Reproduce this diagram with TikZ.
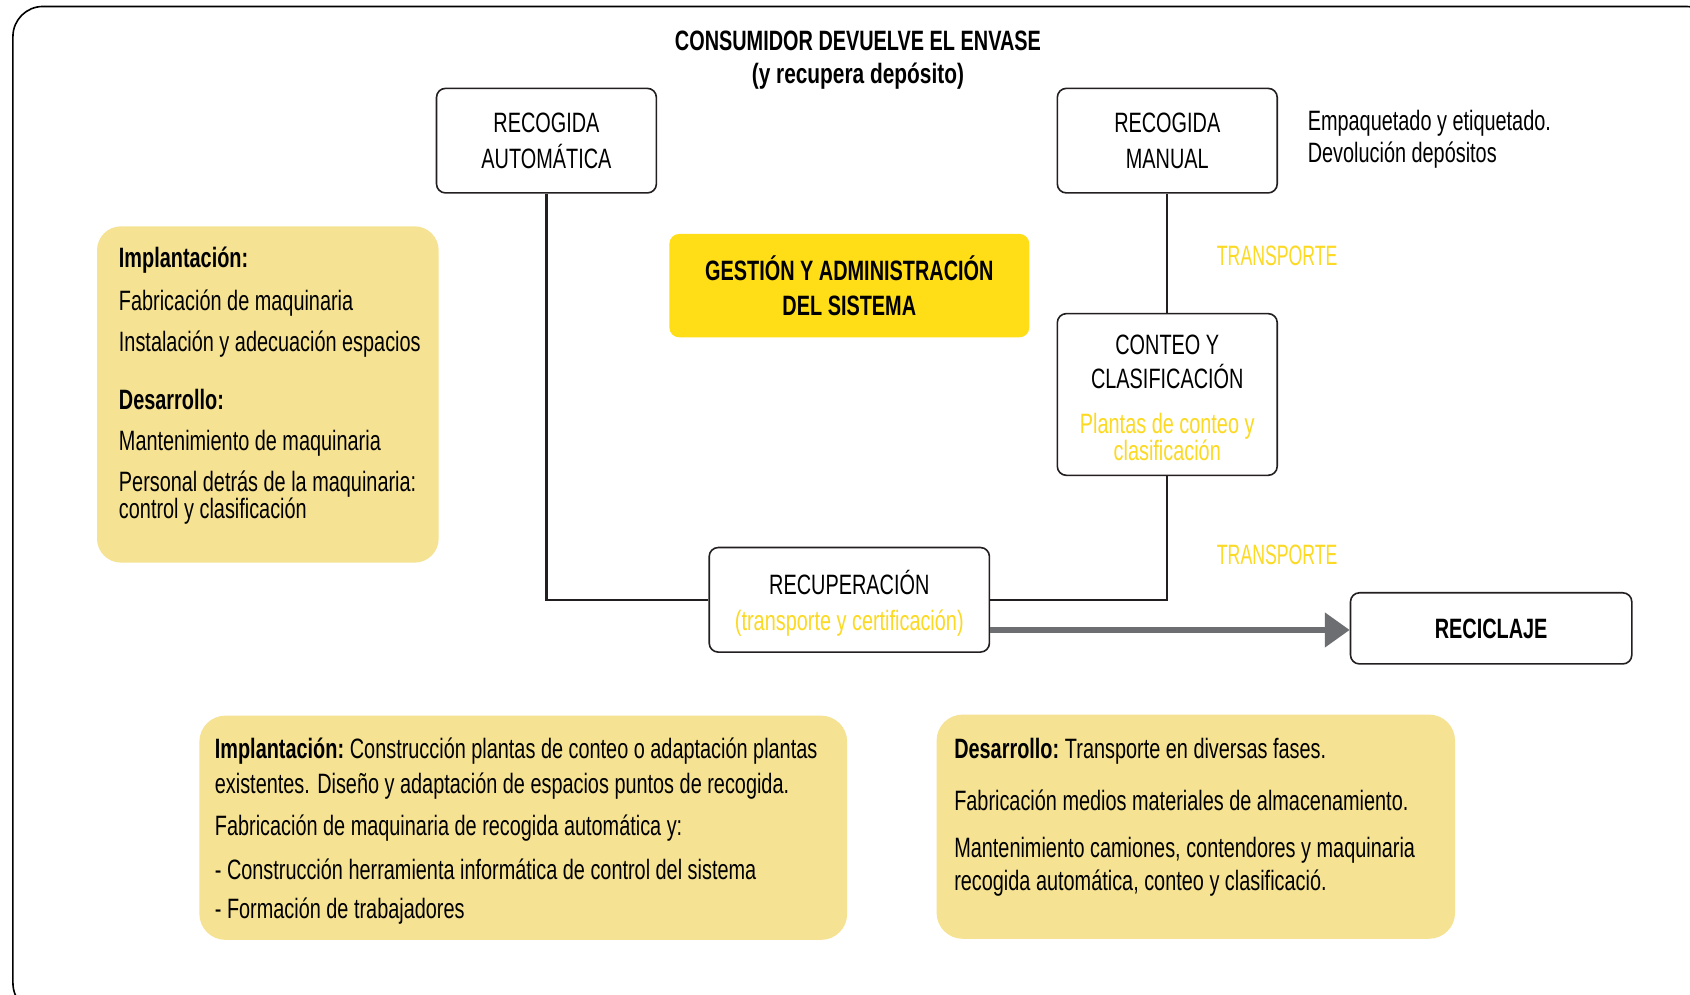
\documentclass[tikz,border=0pt]{standalone}
\usepackage{fontspec}
\setmainfont{Liberation Sans}[FakeStretch=0.71]
\usetikzlibrary{arrows.meta}
\definecolor{paleY}{HTML}{F5E292}
\definecolor{goldY}{HTML}{FFDE17}
\definecolor{txtY}{HTML}{FCD923}
\definecolor{arrowG}{HTML}{6D6E71}
\definecolor{boxline}{HTML}{231F20}
\def\pxu{0.5389pt}
\tikzset{
  every node/.style={font=\fontsize{14}{17}\selectfont},
  flowbox/.style={draw=boxline, line width=0.8pt, rounded corners=4.5pt, fill=white, inner sep=0pt, align=center},
  notebox/.style={fill=paleY, rounded corners=12pt, inner sep=0pt},
  txt/.style={anchor=west, inner sep=0pt, align=left},
  ytxt/.style={inner sep=0pt, text=txtY},
  conn/.style={draw=boxline, line width=1.1pt},
}
\begin{document}
\begin{tikzpicture}[x=0.5389pt, y=-0.5389pt]
\useasboundingbox (0,0) rectangle (1568,923);
\clip (0,0) rectangle (1568,923);
\fill[white] (0,0) rectangle (1568,923);
% frame
\draw[line width=0.8pt, rounded corners=15pt] (12,6) rectangle (1592,940);

% title
\node[inner sep=0pt, font=\fontsize{14}{17}\selectfont\bfseries] (t1) at (796,37.5) {CONSUMIDOR DEVUELVE EL ENVASE};
\node[inner sep=0pt, font=\fontsize{14}{17}\selectfont\bfseries, xscale=1.05] (t2) at (796,71) {(y recupera depósito)};

% top boxes
\node[flowbox, minimum width=204*\pxu, minimum height=97*\pxu, font=\fontsize{14}{17.8}\selectfont] (ra) at (507,130.5) {RECOGIDA\\AUTOMÁTICA};
\node[flowbox, minimum width=204*\pxu, minimum height=97*\pxu, font=\fontsize{14}{17.8}\selectfont] (rm) at (1083,130.5) {RECOGIDA\\MANUAL};
\node[txt, font=\fontsize{14}{16.2}\selectfont] (emp) at (1213,129) {Empaquetado y etiquetado.\\Devolución depósitos};

% gestion
\node[fill=goldY, rounded corners=5pt, inner sep=0pt, align=center, minimum width=334*\pxu, minimum height=96*\pxu, font=\fontsize{14}{17.8}\selectfont\bfseries] (gest) at (788,265) {GESTIÓN Y ADMINISTRACIÓN\\DEL SISTEMA};

% conteo
\node[flowbox, minimum width=204*\pxu, minimum height=150*\pxu] (cc) at (1083,366) {};
\node[inner sep=0pt, align=center, font=\fontsize{14}{17.2}\selectfont] (cct) at (1083,336) {CONTEO Y\\CLASIFICACIÓN};
\node[ytxt, align=center, font=\fontsize{14}{13.5}\selectfont] (ccy) at (1083,405.5) {Plantas de conteo y\\clasificación};

% transporte labels
\node[ytxt, xscale=0.89] (tr1) at (1185,237) {TRANSPORTE};
\node[ytxt, xscale=0.89] (tr2) at (1185,515) {TRANSPORTE};

% recuperacion
\node[flowbox, minimum width=260*\pxu, minimum height=97*\pxu] (rec) at (788,556.5) {};
\node[inner sep=0pt] (rect) at (788,540) {RECUPERACIÓN};
\node[ytxt] (recy) at (788,578) {(transporte y certificación)};

% reciclaje
\node[flowbox, minimum width=261*\pxu, minimum height=66*\pxu, font=\fontsize{14}{17}\selectfont\bfseries] (recl) at (1383.5,583) {RECICLAJE};

% connectors
\draw[conn] (ra.south) |- (rec.west);
\draw[conn] (rm.south) -- (cc.north);
\draw[conn] (cc.south) |- (rec.east);
\draw[draw=arrowG, line width=3pt, -{Triangle[length=12.4pt, width=16.7pt]}] ([yshift=-1.5*\pxu]rec.east |- recl.west) -- ([yshift=-1.5*\pxu]recl.west);

% left note
\node[notebox, minimum width=317*\pxu, minimum height=312*\pxu] (nl) at (248.5,366) {};
\node[txt, font=\fontsize{14}{17}\selectfont\bfseries] (nl1) at (110,241) {Implantación:};
\node[txt] (nl2) at (110,281) {Fabricación de maquinaria};
\node[txt] (nl3) at (110,319) {Instalación y adecuación espacios};
\node[txt, font=\fontsize{14}{17}\selectfont\bfseries] (nl4) at (110,371) {Desarrollo:};
\node[txt] (nl5) at (110,411) {Mantenimiento de maquinaria};
\node[txt, font=\fontsize{14}{13.5}\selectfont] (nl6) at (110,462) {Personal detrás de la maquinaria:\\control y clasificación};

% bottom left note
\node[notebox, minimum width=601*\pxu, minimum height=208*\pxu, rounded corners=13pt] (nb1) at (485.5,768) {};
\node[txt] (b11) at (199,697) {\textbf{Implantación:}\hspace{-0.8pt} Construcción plantas de conteo o adaptación plantas};
\node[txt] (b12) at (199,729) {existentes. Diseño y adaptación de espacios puntos de recogida.};
\node[txt] (b13) at (199,768) {Fabricación de maquinaria de recogida automática y:};
\node[txt] (b14) at (199,807) {- Construcción herramienta informática de control del sistema};
\node[txt] (b15) at (199,845) {- Formación de trabajadores};

% bottom right note
\node[notebox, minimum width=481*\pxu, minimum height=208*\pxu, rounded corners=13pt] (nb2) at (1109.5,767) {};
\node[txt] (b21) at (885,697) {\textbf{Desarrollo:}\hspace{-0.8pt} Transporte en diversas fases.};
\node[txt] (b22) at (885,743) {Fabricación medios materiales de almacenamiento.};
\node[txt, font=\fontsize{14}{16.7}\selectfont] (b23) at (885,804) {Mantenimiento camiones, contendores y maquinaria\\recogida automática, conteo y clasificació.};
\end{tikzpicture}
\end{document}
